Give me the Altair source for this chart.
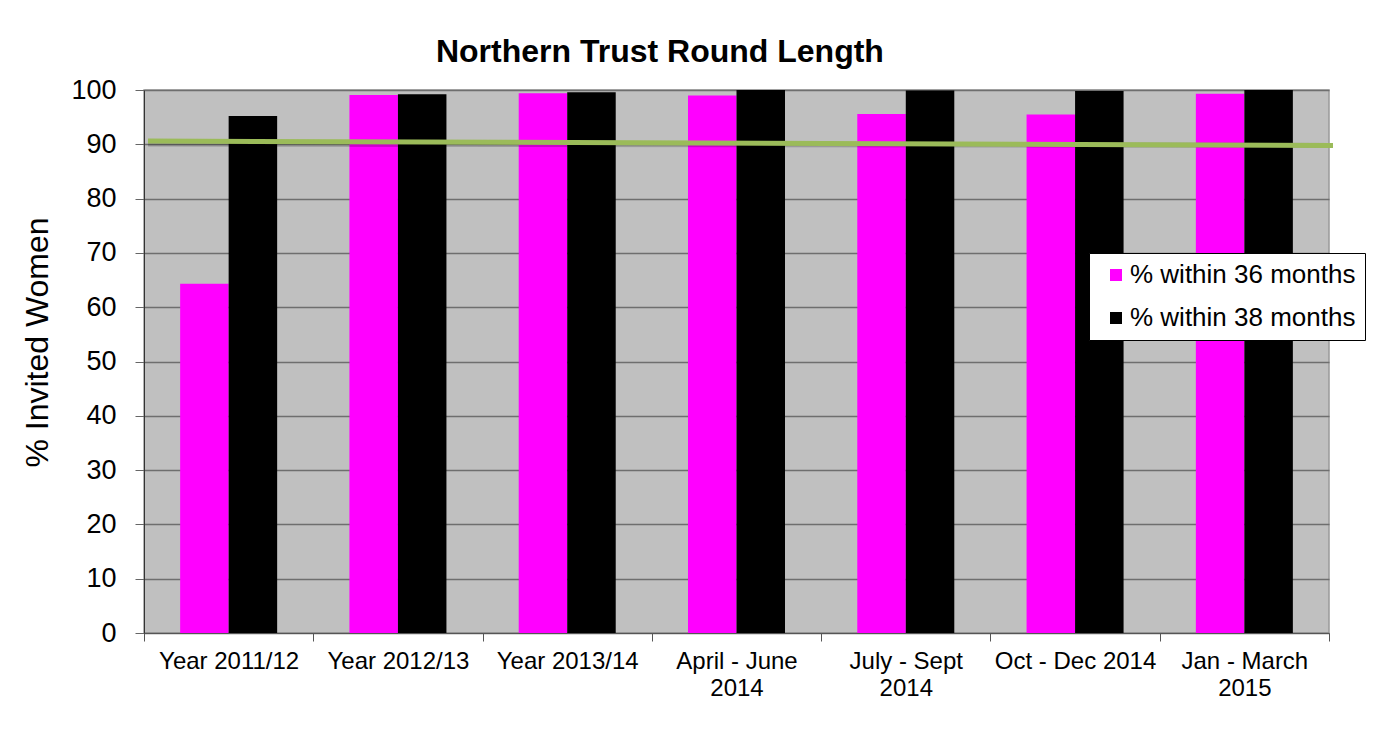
import altair as alt
import pandas as pd

categories = ["Year 2011/12", "Year 2012/13", "Year 2013/14", "April - June\n2014",
              "July - Sept\n2014", "Oct - Dec 2014", "Jan - March\n2015"]
within_36 = [64.3, 99.1, 99.4, 99.0, 95.6, 95.5, 99.3]
within_38 = [95.2, 99.2, 99.6, 100.0, 99.9, 99.8, 100.0]
series_names = ["% within 36 months", "% within 38 months"]
series_colors = ["#FF00FF", "#000000"]
target_start = [90.6]
target_end = [89.8]
y_ticks = list(range(0, 101, 10))

rows = []
for c, a, b in zip(categories, within_36, within_38):
    rows.append({"category": c, "series": series_names[0], "value": a})
    rows.append({"category": c, "series": series_names[1], "value": b})
df = pd.DataFrame(rows)
target_df = pd.DataFrame({"y": target_start, "y2": target_end})

FONT = "Liberation Sans"
W, H = 1185, 543
YTITLE = "% Invited Women"

yscale = alt.Scale(domain=[0, 100], nice=False)

bars = alt.Chart(df).mark_bar().encode(
    x=alt.X("category:N", sort=categories,
            scale=alt.Scale(paddingInner=0, paddingOuter=0),
            axis=alt.Axis(title=None, labelAngle=0, tickBand="extent", grid=False,
                          labelExpr="isValid(datum.value) ? split(datum.value, '\\n') : ''",
                          labelFontSize=24, labelFont=FONT, labelColor="#000",
                          labelLineHeight=27, labelPadding=8,
                          tickSize=8, tickColor="#555", domainColor="#555",
                          labelBaseline="top")),
    xOffset=alt.XOffset("series:N", sort=series_names,
                        scale=alt.Scale(paddingInner=0, paddingOuter=0.745)),
    y=alt.Y("value:Q", scale=yscale,
            axis=alt.Axis(title=YTITLE, values=y_ticks, grid=True,
                          gridColor="#6E6E6E", gridWidth=1.5,
                          labelFontSize=27, labelFont=FONT, labelColor="#000",
                          labelPadding=19, tickSize=9, tickColor="#666",
                          domainColor="#333", titleFontSize=32, titleFont=FONT,
                          titleFontWeight="normal", titleColor="#000",
                          titlePadding=16, titleY=252)),
    color=alt.Color("series:N", sort=series_names,
                    scale=alt.Scale(domain=series_names, range=series_colors),
                    legend=alt.Legend(title=None, orient="none", legendX=945, legendY=163,
                                      fillColor="white", strokeColor="#000",
                                      padding=9, rowPadding=17, labelLimit=0,
                                      symbolType="square", symbolSize=144,
                                      symbolStrokeWidth=0, symbolOffset=5,
                                      labelExpr="datum.label + '\u00a0\u00a0\u00a0'",
                                      labelFontSize=26, labelFont=FONT,
                                      labelColor="#000", labelOffset=1)),
)

shadow = alt.Chart(target_df).mark_rule(strokeWidth=5, color="#000", opacity=0.2,
                                        yOffset=3).encode(
    x=alt.value(4), x2=alt.value(W + 4),
    y=alt.Y("y:Q", scale=yscale, title=YTITLE), y2="y2:Q")

target = alt.Chart(target_df).mark_rule(strokeWidth=5, color="#9BBB59").encode(
    x=alt.value(4), x2=alt.value(W + 4),
    y=alt.Y("y:Q", scale=yscale, title=YTITLE), y2="y2:Q")

chart = alt.layer(bars, shadow, target).properties(
    width=W, height=H,
    title=alt.TitleParams("Northern Trust Round Length", fontSize=32, font=FONT,
                          fontWeight="bold", color="#000", anchor="start",
                          dx=414, offset=7),
    autosize=alt.AutoSizeParams(type="none"),
    padding={"left": 136, "top": 82, "right": 51, "bottom": 97},
).configure(background="white").configure_view(fill="#C0C0C0", stroke="#999", strokeWidth=1.5)

chart.save("out.html", embed_options={"renderer": "svg", "actions": False})
